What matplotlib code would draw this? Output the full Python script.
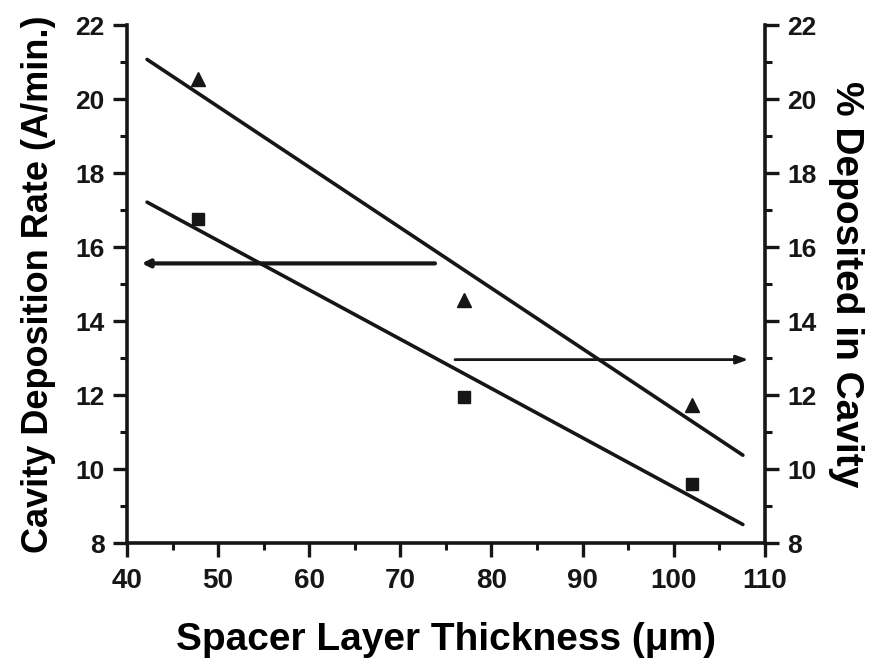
import matplotlib
matplotlib.use("Agg")
import matplotlib.pyplot as plt
import numpy as np

# Data
thickness = [47.8, 77.0, 102.0]          # Spacer layer thickness (um)
dep_rate = [16.76, 11.95, 9.59]          # Cavity deposition rate (A/min.)  - squares
pct_cavity = [20.53, 14.57, 11.73]       # % deposited in cavity          - triangles
fit_range = [42.2, 107.6]

left_arrow_y = 15.56
left_arrow_x = [73.8, 41.6]
right_arrow_y = 12.96
right_arrow_x = [76.0, 108.2]

x_ticks = [40, 50, 60, 70, 80, 90, 100, 110]
y_ticks = [8, 10, 12, 14, 16, 18, 20, 22]

plt.rcParams['font.family'] = ['Liberation Sans', 'DejaVu Sans']
plt.rcParams['font.weight'] = 'bold'

INK = '#161616'
fig = plt.figure(figsize=(8.76, 6.6), dpi=100)
ax = fig.add_axes([0.145, 0.177, 0.728, 0.785])
ax2 = ax.twinx()

fx = np.array(fit_range)
p1 = np.polyfit(thickness, dep_rate, 1)
p2 = np.polyfit(thickness, pct_cavity, 1)

ax.plot(fx, np.polyval(p1, fx), color=INK, lw=2.6, solid_capstyle='round')
ax.plot(thickness, dep_rate, 's', color=INK, ms=8.5)
ax2.plot(fx, np.polyval(p2, fx), color=INK, lw=2.6, solid_capstyle='round')
ax2.plot(thickness, pct_cavity, '^', color=INK, ms=10)

ax.annotate('', xy=(left_arrow_x[1], left_arrow_y), xytext=(left_arrow_x[0], left_arrow_y),
            arrowprops=dict(arrowstyle='-|>,head_length=0.45,head_width=0.22', color=INK, lw=3.0,
                            shrinkA=0, shrinkB=0))
ax2.annotate('', xy=(right_arrow_x[1], right_arrow_y), xytext=(right_arrow_x[0], right_arrow_y),
             arrowprops=dict(arrowstyle='-|>,head_length=0.7,head_width=0.25', color=INK, lw=2.0,
                             shrinkA=0, shrinkB=0))

for a in (ax, ax2):
    a.set_xlim(40, 110)
    a.set_ylim(8, 22)
    a.set_yticks(y_ticks)
    a.set_yticks(np.arange(9, 22, 2), minor=True)
    a.spines['top'].set_visible(False)
    for s in a.spines.values():
        s.set_linewidth(2.6)
        s.set_color(INK)
    a.tick_params(axis='both', which='major', length=10, width=2.4, labelsize=19, colors=INK, pad=6)
    a.tick_params(axis='both', which='minor', length=5, width=2.2, colors=INK)

ax.set_xticks(x_ticks)
ax.set_xticks(np.arange(45, 110, 10), minor=True)
ax.tick_params(axis='x', which='major', labelsize=20, pad=8)
ax.spines['right'].set_visible(False)
ax2.spines['left'].set_visible(False)
ax2.spines['bottom'].set_visible(False)

for lab in ax.get_xticklabels() + ax.get_yticklabels() + ax2.get_yticklabels():
    lab.set_fontweight('bold')

ax.set_xlabel('Spacer Layer Thickness (\u03bcm)', fontsize=28, fontweight='bold', labelpad=20)
ax.set_ylabel('Cavity Deposition Rate (A/min.)', fontsize=26, fontweight='bold', labelpad=14)
ax2.set_ylabel('% Deposited in Cavity', fontsize=28, fontweight='bold', rotation=270, labelpad=34)

fig.savefig('out.png', dpi=100, facecolor='white')
